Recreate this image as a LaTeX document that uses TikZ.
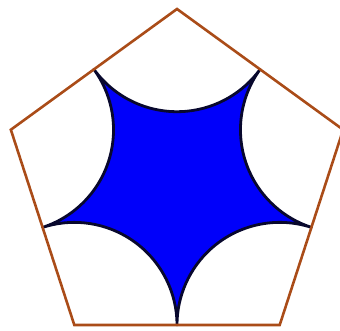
\documentclass[tikz,border=0pt]{standalone}
\definecolor{edgebrown}{RGB}{170, 76, 24}
\definecolor{starblue}{RGB}{0, 0, 250}
\definecolor{stardark}{RGB}{8, 8, 45}
\usepackage{tikz}
\usetikzlibrary{calc}

\begin{document}
\begin{tikzpicture}[
  x=1pt, y=1pt,
  penta/.style={draw=edgebrown, line width=2.6pt, line join=miter},
  starfill/.style={draw=stardark, line width=2.8pt, fill=starblue, line join=round}
]
  \useasboundingbox (0,0) rectangle (340,331);
  \def\R{174.7}
  \def\h{102.7}
  \coordinate (O) at (177,147.3);

  % star: arcs round each corner
  \draw[starfill] ($(O)+(90:\R)+(216:\h)$)
    \foreach \t in {90,18,-54,-126,-198} {
      arc[start angle=\t+126, end angle=\t+234, radius=\h]
    } -- cycle;

  % the pentagon
  \draw[penta] ($(O)+(90:\R)$) -- ($(O)+(162:\R)$) -- ($(O)+(234:\R)$)
    -- ($(O)+(306:\R)$) -- ($(O)+(18:\R)$) -- cycle;
\end{tikzpicture}
\end{document}
